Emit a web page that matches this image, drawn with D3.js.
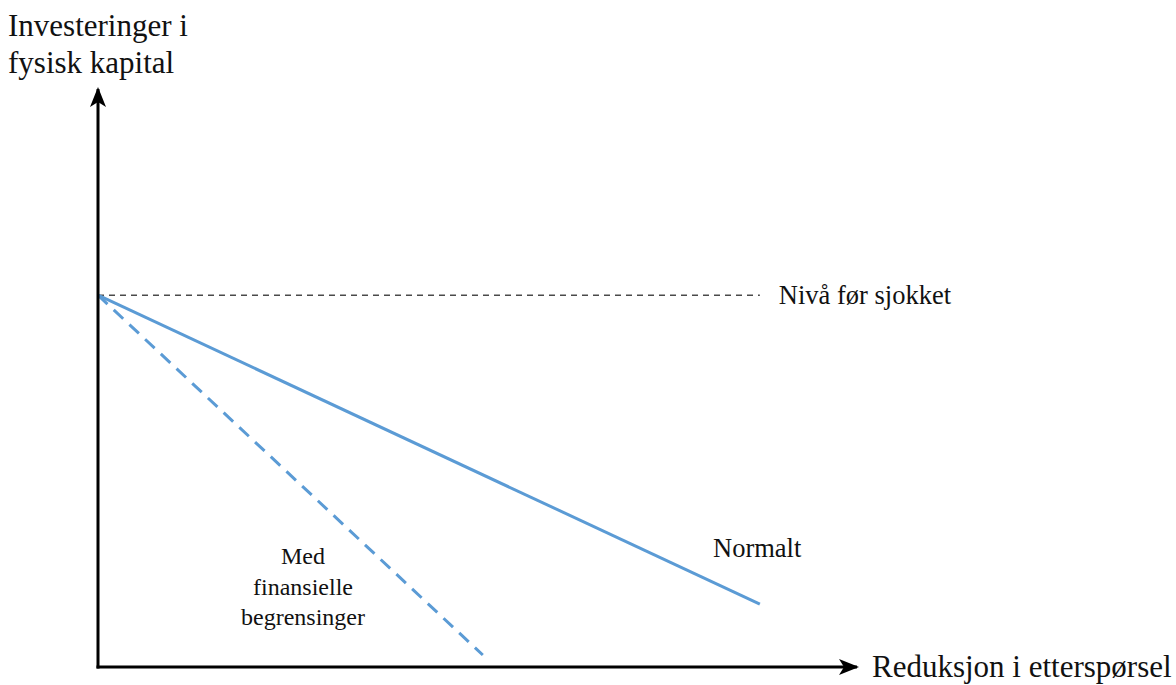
<!DOCTYPE html>
<html>
<head>
<meta charset="utf-8">
<script src="https://cdn.jsdelivr.net/npm/d3@7"></script>
<style>
  html, body { margin: 0; padding: 0; background: #fff; }
  text { font-family: "Liberation Serif", "Times New Roman", serif; fill: #111; }
</style>
</head>
<body>
<svg id="chart" width="1176" height="685"></svg>
<script>
// Data (arbitrary units, x: demand reduction 0-100, y: investment 0-100)
const levelBefore = 65;
const normalLine = [ {x: 0, y: 65}, {x: 87.2, y: 11} ];
const constrainedLine = [ {x: 0, y: 65}, {x: 50.7, y: 2.1} ];
const levelLine = [ {x: 0, y: 65}, {x: 87.2, y: 65} ];
const yAxisTitle = ["Investeringer i", "fysisk kapital"];
const xAxisTitle = "Reduksjon i etterspørsel";
const levelLabel = "Nivå før sjokket";
const normalLabel = "Normalt";
const constrainedLabel = ["Med", "finansielle", "begrensinger"];

const svg = d3.select("#chart");
const x = d3.scaleLinear().domain([0, 100]).range([98, 857]);
const y = d3.scaleLinear().domain([0, 100]).range([667, 95]);
const line = d3.line().x(d => x(d.x)).y(d => y(d.y));

const defs = svg.append("defs");
defs.append("marker")
  .attr("id", "arrow")
  .attr("viewBox", "0 0 20 20")
  .attr("refX", 18).attr("refY", 10)
  .attr("markerWidth", 20).attr("markerHeight", 20)
  .attr("markerUnits", "userSpaceOnUse")
  .attr("orient", "auto")
  .append("path")
  .attr("d", "M0,2 L20,10 L0,18 L5,10 Z")
  .attr("fill", "#000");

// level dashed line
svg.append("path").datum(levelLine)
  .attr("d", line)
  .attr("fill", "none").attr("stroke", "#4a4a4a").attr("stroke-width", 1.5)
  .attr("stroke-dasharray", "6,5");

// constrained (dashed blue)
svg.append("path").datum(constrainedLine)
  .attr("d", line)
  .attr("fill", "none").attr("stroke", "#5b9bd5").attr("stroke-width", 3)
  .attr("stroke-dasharray", "13,8.5");

// normal
svg.append("path").datum(normalLine)
  .attr("d", line)
  .attr("fill", "none").attr("stroke", "#5b9bd5").attr("stroke-width", 3);

// axes
svg.append("line")
  .attr("x1", x(0)).attr("y1", y(0) + 1.5).attr("x2", x(0)).attr("y2", y(100) - 6)
  .attr("stroke", "#000").attr("stroke-width", 3).attr("marker-end", "url(#arrow)");
svg.append("line")
  .attr("x1", x(0) - 1.5).attr("y1", y(0)).attr("x2", x(100)).attr("y2", y(0))
  .attr("stroke", "#000").attr("stroke-width", 3).attr("marker-end", "url(#arrow)");

// texts
svg.append("text").attr("font-size", 31)
  .selectAll("tspan").data(yAxisTitle).join("tspan")
  .attr("x", 8).attr("y", (d, i) => 36 + i * 37).text(d => d);

svg.append("text").attr("x", 872).attr("y", 677).attr("font-size", 31).text(xAxisTitle);

svg.append("text").attr("x", x(87.2) + 19).attr("y", y(levelBefore) + 9).attr("font-size", 26.5).text(levelLabel);

svg.append("text").attr("x", 713).attr("y", 557).attr("font-size", 26.5).text(normalLabel);

svg.append("text").attr("text-anchor", "middle").attr("font-size", 24)
  .selectAll("tspan").data(constrainedLabel).join("tspan")
  .attr("x", 303).attr("y", (d, i) => 564 + i * 30.5).text(d => d);
</script>
</body>
</html>
